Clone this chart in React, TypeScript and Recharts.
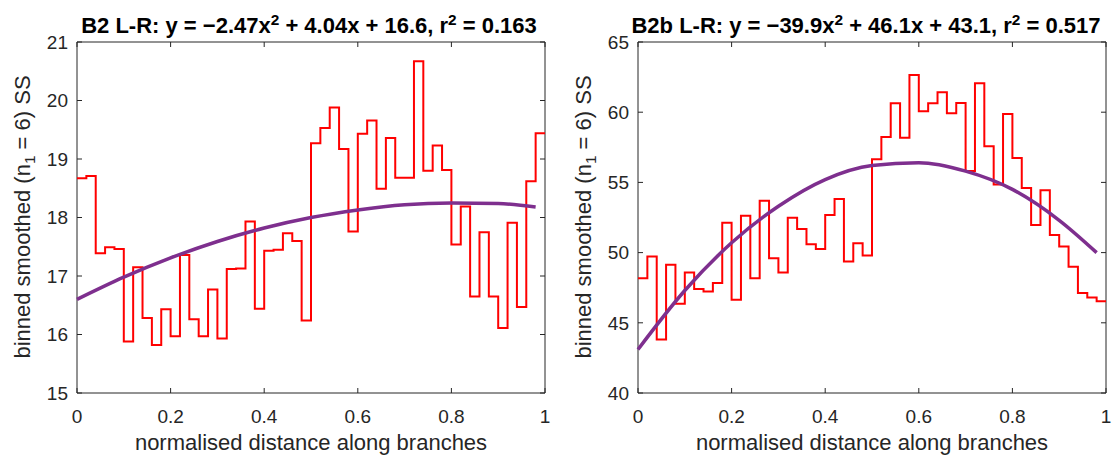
import React from 'react';
import { LineChart, Line, XAxis, YAxis, Label, ReferenceArea } from 'recharts';

// shared x ticks (normalised distance)
const xTicks = [0, 0.2, 0.4, 0.6, 0.8, 1];

// B2 L-R: binned smoothed SS, 50 bins
const b2Bins = [
  18.67, 18.71, 17.39, 17.49, 17.46, 15.88, 17.15, 16.28, 15.82, 16.43,
  15.97, 17.36, 16.26, 15.97, 16.77, 15.93, 17.12, 17.13, 17.93, 16.44,
  17.43, 17.45, 17.73, 17.6, 16.24, 19.27, 19.53, 19.88, 19.17, 17.76,
  19.43, 19.66, 18.49, 19.36, 18.68, 18.68, 20.67, 18.8, 19.23, 18.81,
  17.54, 18.19, 16.65, 17.75, 16.65, 16.11, 17.91, 16.47, 18.62, 19.44,
];
const b2Ticks = [15, 16, 17, 18, 19, 20, 21];
const fitX = [0, 0.1, 0.2, 0.3, 0.4, 0.5, 0.6, 0.7, 0.8, 0.9, 0.98];
const b2Fit = [16.6, 16.98, 17.31, 17.59, 17.82, 18.0, 18.13, 18.22, 18.25, 18.24, 18.18];

// B2b L-R
const b2bBins = [
  48.18, 49.72, 43.81, 49.13, 46.36, 48.58, 47.4, 47.23, 47.83, 52.13,
  46.64, 52.62, 48.18, 53.69, 49.6, 48.58, 52.48, 51.68, 50.59, 50.26,
  52.67, 53.81, 49.36, 50.66, 49.79, 56.64, 58.23, 60.64, 58.18, 62.65,
  60.07, 60.64, 61.42, 59.93, 60.66, 55.82, 62.06, 57.57, 54.85, 59.88,
  56.74, 54.61, 51.96, 54.44, 51.25, 50.43, 49.0, 47.12, 46.81, 46.53,
];
const b2bTicks = [40, 45, 50, 55, 60, 65];
const b2bFit = [43.1, 47.3, 50.7, 53.3, 55.2, 56.2, 56.4, 55.8, 54.5, 52.3, 50.0];

const FONT = '"Liberation Sans", Arial, sans-serif';
const AXIS = '#262626';
const TEXT = '#262626';

const toSteps = (vals: number[]) => [
  ...vals.map((v, i) => ({ x: i / vals.length, y: v })),
  { x: 1, y: vals[vals.length - 1] },
];

// tick renderers: inward tick mark drawn as a path + label
const BottomTick = (p: any) => (
  <g>
    <path d={`M${p.x},${p.y - 17}V${p.y - 22}`} stroke={AXIS} strokeWidth={1} />
    <text x={p.x} y={p.y} dy="0.71em" textAnchor="middle" fill={TEXT} fontSize={19} fontFamily={FONT}>
      {p.payload.value}
    </text>
  </g>
);
const LeftTick = (p: any) => (
  <g>
    <path d={`M${p.x + 9},${p.y}H${p.x + 14}`} stroke={AXIS} strokeWidth={1} />
    <text x={p.x} y={p.y} dy="0.355em" textAnchor="end" fill={TEXT} fontSize={19} fontFamily={FONT}>
      {p.payload.value}
    </text>
  </g>
);
const TopTick = (p: any) => <path d={`M${p.x},${p.y}V${p.y - 5}`} stroke={AXIS} strokeWidth={1} />;
const RightTick = (p: any) => <path d={`M${p.x},${p.y}H${p.x + 5}`} stroke={AXIS} strokeWidth={1} />;

type PanelProps = {
  left: number;
  width: number;
  marginLeft: number;
  marginRight: number;
  bins: number[];
  fit: number[];
  yTicks: number[];
};

function Panel({ left, width, marginLeft, marginRight, bins, fit, yTicks }: PanelProps) {
  const steps = toSteps(bins);
  const fitData = fitX.map((x, i) => ({ x, y: fit[i] }));
  const yMin = yTicks[0];
  const yMax = yTicks[yTicks.length - 1];
  return (
    <div style={{ position: 'absolute', left, top: 0 }}>
      <LineChart
        width={width}
        height={455}
        margin={{ top: 40, right: marginRight, bottom: 32, left: marginLeft }}
      >
        <XAxis
          dataKey="x"
          type="number"
          domain={[0, 1]}
          ticks={xTicks}
          tickSize={-5}
          tickMargin={22}
          height={30}
          axisLine={false}
          tickLine={false}
          tick={BottomTick}
        >
          <Label
            value="normalised distance along branches"
            position="bottom"
            offset={11}
            style={{ fill: TEXT, fontSize: 22, fontFamily: FONT }}
          />
        </XAxis>
        <XAxis
          xAxisId="top"
          orientation="top"
          dataKey="x"
          type="number"
          domain={[0, 1]}
          ticks={xTicks}
          tickSize={-5}
          tickMargin={0}
          height={2}
          axisLine={false}
          tickLine={false}
          tick={TopTick}
        />
        <YAxis
          type="number"
          domain={[yMin, yMax]}
          ticks={yTicks}
          tickSize={-5}
          tickMargin={14}
          width={60}
          axisLine={false}
          tickLine={false}
          tick={LeftTick}
        />
        <YAxis
          yAxisId="right"
          orientation="right"
          type="number"
          domain={[yMin, yMax]}
          ticks={yTicks}
          tickSize={-5}
          tickMargin={0}
          width={2}
          axisLine={false}
          tickLine={false}
          tick={RightTick}
        />
        {/* axes box */}
        <ReferenceArea
          x1={0}
          x2={1}
          y1={yMin}
          y2={yMax}
          fill="none"
          fillOpacity={0}
          stroke={AXIS}
          strokeWidth={1}
          strokeOpacity={1}
        />
        <Line
          data={steps}
          dataKey="y"
          type="stepAfter"
          stroke="#ff0000"
          strokeWidth={2}
          dot={false}
          activeDot={false}
          isAnimationActive={false}
        />
        <Line
          data={fitData}
          dataKey="y"
          xAxisId="top"
          yAxisId="right"
          type="monotone"
          stroke="#7e2f8e"
          strokeWidth={3.5}
          dot={false}
          activeDot={false}
          isAnimationActive={false}
        />
      </LineChart>
    </div>
  );
}

const supStyle: React.CSSProperties = { fontSize: '0.7em', lineHeight: 0, verticalAlign: 'super' };
const subStyle: React.CSSProperties = { fontSize: '0.7em', lineHeight: 0, verticalAlign: 'sub' };

function Title({ cx, children }: { cx: number; children: React.ReactNode }) {
  return (
    <div
      style={{
        position: 'absolute',
        left: cx,
        top: 14.5,
        transform: 'translateX(-50%)',
        whiteSpace: 'nowrap',
        fontFamily: FONT,
        fontWeight: 'bold',
        fontSize: 22,
        lineHeight: '22px',
        color: '#000',
      }}
    >
      {children}
    </div>
  );
}

function YLabel({ cx }: { cx: number }) {
  return (
    <div
      style={{
        position: 'absolute',
        left: cx,
        top: 217,
        transform: 'translate(-50%, -50%) rotate(-90deg)',
        whiteSpace: 'nowrap',
        fontFamily: FONT,
        fontSize: 22,
        lineHeight: '22px',
        color: TEXT,
      }}
    >
      binned smoothed (n<sub style={subStyle}>1</sub> = 6) SS
    </div>
  );
}

export default function App() {
  return (
    <div style={{ position: 'absolute', left: 0, top: 0, width: 1113, height: 455, background: '#fff' }}>
      <Panel left={0} width={560} marginLeft={17} marginRight={13} bins={b2Bins} fit={b2Fit} yTicks={b2Ticks} />
      <Panel left={560} width={553} marginLeft={18} marginRight={5} bins={b2bBins} fit={b2bFit} yTicks={b2bTicks} />
      <Title cx={309}>
        B2 L-R: y = −2.47x<sup style={supStyle}>2</sup> + 4.04x + 16.6, r<sup style={supStyle}>2</sup> = 0.163
      </Title>
      <Title cx={866}>
        B2b L-R: y = −39.9x<sup style={supStyle}>2</sup> + 46.1x + 43.1, r<sup style={supStyle}>2</sup> = 0.517
      </Title>
      <YLabel cx={22.5} />
      <YLabel cx={583.5} />
    </div>
  );
}
